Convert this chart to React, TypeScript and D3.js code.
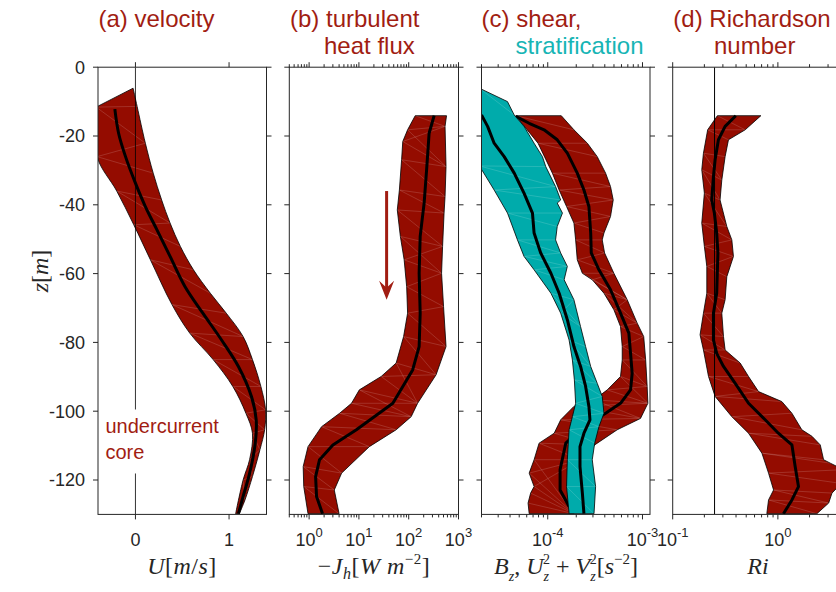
import React from "react";
import * as d3 from "d3";

type P = [number, number]; // [depth z (m), value]

// ---------- shared ----------
const zTicks = [0, -20, -40, -60, -80, -100, -120];

// ---------- (a) velocity U [m/s] ----------
const velocityLeft: P[] = [
  [-11.6, -0.42], [-26, -0.41], [-36, -0.2], [-45.8, -0.018], [-56, 0.16], [-69, 0.39],
  [-77.3, 0.58], [-85, 0.83], [-92.8, 1.04], [-100.6, 1.18], [-106.4, 1.25],
  [-114, 1.22], [-120, 1.15], [-129.8, 1.07],
];
const velocityRight: P[] = [
  [-6.1, -0.025], [-11.4, 0.018], [-22.1, 0.106], [-30.8, 0.19], [-38.6, 0.28],
  [-45.3, 0.37], [-52.1, 0.48], [-58.9, 0.62], [-65.7, 0.8], [-71.5, 0.97],
  [-78.3, 1.15], [-85, 1.25], [-92.8, 1.34], [-99.6, 1.39], [-105.4, 1.38],
  [-111.2, 1.33], [-119, 1.25], [-125.8, 1.17], [-129.8, 1.11],
];
const velocityMean: P[] = [
  [-12.2, -0.22], [-19.2, -0.18], [-26, -0.106], [-33.7, 0], [-40.5, 0.106],
  [-47.3, 0.23], [-55, 0.37], [-63.8, 0.53], [-71.5, 0.72], [-79.3, 0.92],
  [-87, 1.1], [-95.8, 1.24], [-102.5, 1.29], [-109.3, 1.28], [-118, 1.22],
  [-124.8, 1.15], [-129.8, 1.1],
];

// ---------- (b) turbulent heat flux -J_h [W m^-2] ----------
const fluxLeft: P[] = [
  [-14.1, 135], [-18.2, 95], [-21.6, 76], [-26.9, 72], [-35.7, 65], [-41.5, 59],
  [-49.2, 68], [-56, 81], [-63.8, 91], [-71.5, 95], [-78.3, 79], [-86, 56],
  [-89.9, 28], [-93.8, 10.2], [-97.7, 7.1], [-100.6, 4.1], [-104.5, 1.78],
  [-110.3, 0.95], [-116.1, 0.76], [-121.9, 0.78], [-129.8, 0.95],
];
const fluxRight: P[] = [
  [-14.1, 575], [-17.2, 537], [-28.9, 562], [-37.6, 537], [-42.4, 513], [-52.1, 479],
  [-59.9, 457], [-69.6, 501], [-81.2, 562], [-89.4, 355], [-97.7, 151], [-101.6, 112],
  [-105.4, 56], [-110.3, 16.2], [-118, 4.5], [-122.9, 3.2], [-129.8, 4.0],
];
const fluxMean: P[] = [
  [-14.1, 324], [-19.2, 257], [-29.8, 229], [-39.5, 204], [-49.2, 170], [-59.9, 162],
  [-71.5, 170], [-81.2, 162], [-88, 120], [-97.7, 48], [-105.4, 8.9], [-109.8, 3.0],
  [-114.1, 1.62], [-119, 1.35], [-124.8, 1.41], [-129.8, 1.86],
];
const arrowFlux = 36;
const arrowDepths = [-36, -67.6];

// ---------- (c) shear U_z^2+V_z^2 and stratification B_z [s^-2] ----------
const shearLeft: P[] = [
  [-14.1, 4.6e-5], [-22.1, 7.9e-5], [-30.8, 1.12e-4], [-35.7, 1.32e-4], [-40.5, 1.58e-4],
  [-45.3, 1.89e-4], [-50.2, 1.97e-4], [-56, 2.05e-4], [-59.9, 2.32e-4], [-61.8, 2.95e-4],
  [-65.7, 3.92e-4], [-70.5, 4.99e-4], [-75.4, 5.86e-4], [-81.2, 6.11e-4], [-85.1, 6.11e-4],
  [-89.9, 5.86e-4], [-93.8, 4.25e-4], [-96.7, 3.08e-4], [-98.6, 1.89e-4], [-102.5, 1.37e-4],
  [-106.4, 1.17e-4], [-109.3, 8.1e-5], [-114.1, 7.18e-5], [-118, 6.37e-5], [-121.9, 7.18e-5],
  [-123.8, 6.6e-5], [-126.7, 6.2e-5], [-129.8, 6.37e-5],
];
const shearRight: P[] = [
  [-14.1, 1.39e-4], [-18.2, 1.89e-4], [-22.1, 2.62e-4], [-26, 3.33e-4], [-30.8, 4.08e-4],
  [-34.7, 4.6e-4], [-38.6, 4.91e-4], [-43.4, 4.6e-4], [-48.2, 3.92e-4], [-50.2, 3.76e-4],
  [-54, 3.98e-4], [-59.9, 4.99e-4], [-67.6, 6.9e-4], [-74.4, 8.79e-4], [-78.3, 1.03e-3],
  [-85.1, 1.08e-3], [-92.8, 1.12e-3], [-97.7, 1.14e-3], [-102.1, 9.53e-4], [-105.4, 5.41e-4],
  [-109.8, 3.13e-4], [-114.1, 2.22e-4], [-129.8, 1.89e-4],
];
const shearMean: P[] = [
  [-14.3, 4.6e-5], [-16.3, 6.37e-5], [-18.2, 9.14e-5], [-21.1, 1.26e-4], [-25, 1.61e-4],
  [-30.8, 2.05e-4], [-35.7, 2.41e-4], [-40.5, 2.72e-4], [-48.2, 2.84e-4], [-54, 2.88e-4],
  [-58.9, 3.47e-4], [-64.7, 4.6e-4], [-71.5, 5.86e-4], [-77.3, 7.18e-4], [-83.2, 7.48e-4],
  [-89, 7.78e-4], [-93.8, 7.48e-4], [-97.7, 5.86e-4], [-100.6, 4.08e-4], [-104.5, 2.41e-4],
  [-109.3, 1.55e-4], [-117, 1.35e-4], [-122.9, 1.35e-4], [-127.7, 1.68e-4],
];
const stratLeft: P[] = [
  [-6.1, 1.9e-5], [-28.7, 1.9e-5], [-35.7, 2.72e-5], [-42.4, 3.76e-5], [-50.2, 4.79e-5],
  [-55, 5.62e-5], [-58.9, 7.18e-5], [-65.7, 1.08e-4], [-71.5, 1.37e-4], [-79.3, 1.68e-4],
  [-85.1, 1.82e-4], [-90.9, 1.91e-4], [-97.7, 1.97e-4], [-101.6, 1.82e-4], [-105.4, 1.68e-4],
  [-114.1, 1.61e-4], [-121.9, 1.58e-4], [-129.8, 1.68e-4],
];
const stratRight: P[] = [
  [-10, 3.76e-5], [-13.9, 4.43e-5], [-17.2, 5.62e-5], [-22.1, 7.18e-5], [-26, 8.79e-5],
  [-28.9, 9.53e-5], [-34.7, 1.21e-4], [-38.6, 1.37e-4], [-39.5, 1.26e-4], [-42.4, 1.43e-4],
  [-46.3, 1.26e-4], [-50.2, 1.21e-4], [-54, 1.37e-4], [-57.9, 1.61e-4], [-61.8, 1.49e-4],
  [-67.6, 1.89e-4], [-75.4, 2.22e-4], [-81.2, 2.51e-4], [-87, 2.84e-4], [-91.9, 3.33e-4],
  [-95.7, 3.76e-4], [-100.6, 3.92e-4], [-104.5, 3.47e-4], [-109.3, 3.13e-4], [-114.1, 2.95e-4],
  [-121.9, 3.2e-4], [-129.8, 3.08e-4],
];
const stratMean: P[] = [
  [-13.9, 2.0e-5], [-17.2, 2.32e-5], [-22.1, 2.72e-5], [-26, 3.47e-5], [-30.8, 4.43e-5],
  [-36.6, 5.62e-5], [-42.4, 6.9e-5], [-48.2, 7.18e-5], [-54, 8.43e-5], [-59.9, 1.08e-4],
  [-65.7, 1.32e-4], [-73.4, 1.61e-4], [-81.2, 1.89e-4], [-87, 2.22e-4], [-92.8, 2.51e-4],
  [-98.6, 2.72e-4], [-102.5, 2.79e-4], [-106.4, 2.41e-4], [-110.3, 2.19e-4], [-116.1, 2.19e-4],
  [-123.8, 2.32e-4], [-129.8, 2.41e-4],
];

// ---------- (d) Richardson number Ri ----------
const riLeft: P[] = [
  [-14.1, 0.266], [-18.2, 0.215], [-25, 0.196], [-29.8, 0.189], [-36.6, 0.2], [-45.3, 0.189],
  [-52.1, 0.2], [-57.9, 0.211], [-65.7, 0.211], [-71.5, 0.196], [-77.8, 0.182], [-82.2, 0.196],
  [-89.9, 0.219], [-95.7, 0.253], [-101.6, 0.365], [-106.4, 0.526], [-112.2, 0.705],
  [-118, 0.815], [-122.9, 0.91], [-125.8, 0.815], [-129.8, 0.785],
];
const riRight: P[] = [
  [-14.1, 0.689], [-18.2, 0.489], [-21.1, 0.339], [-26, 0.315], [-32.8, 0.293], [-38.6, 0.282],
  [-46.3, 0.327], [-50.2, 0.365], [-55, 0.378], [-60.9, 0.327], [-67.6, 0.315], [-71.5, 0.293],
  [-78.3, 0.304], [-82.2, 0.315], [-86, 0.438], [-89.9, 0.526], [-94.3, 0.655], [-97.2, 1.09],
  [-100.6, 1.36], [-105.4, 1.69], [-107.3, 2.11], [-109.8, 2.53], [-114.1, 2.72], [-115.1, 3.15],
  [-117, 4.2], [-121, 4.0], [-123.8, 3.27], [-126.7, 3.04], [-129.8, 2.35],
];
const riMean: P[] = [
  [-14.1, 0.398], [-17.2, 0.315], [-21.1, 0.272], [-26.9, 0.253], [-31.8, 0.244], [-38.6, 0.235],
  [-42.4, 0.249], [-48.2, 0.262], [-54, 0.269], [-65.7, 0.262], [-71.5, 0.244], [-79.3, 0.244],
  [-83.2, 0.262], [-87, 0.304], [-91.9, 0.393], [-97.7, 0.526], [-102.5, 0.757], [-106.4, 1.01],
  [-109.8, 1.36], [-116.1, 1.46], [-121.9, 1.57], [-125.8, 1.36], [-129.8, 1.13],
];
const riCritical = 0.25;

// ---------- styling ----------
const RED = "#940c00";
const CYAN = "#00abab";
const TITLE_RED = "#a11d12";
const TITLE_CYAN = "#17b5b5";
const AXIS = "#262626";
const SANS = "'Liberation Sans', Arial, Helvetica, sans-serif";
const SERIF = "'Liberation Serif', 'Times New Roman', serif";

const TOP = 67.2;
const BOTTOM = 514.4;
const W = 168.5;
const lefts = [98, 289.3, 481.5, 672.7];

const yScale = d3.scaleLinear().domain([0, -130]).range([TOP, BOTTOM]);
const xA = d3.scaleLinear().domain([-0.4, 1.4]).range([lefts[0], lefts[0] + W]);
const xB = d3.scaleLog().domain([0.4, 1000]).range([lefts[1], lefts[1] + 169.2]);
const xC = d3.scaleLog().domain([2e-5, 1.2e-3]).range([lefts[2], lefts[2] + W]);
const xD = d3.scaleLog().domain([0.1, 4]).range([lefts[3], lefts[3] + W]);

type Scale = (v: number) => number;

function texture(left: P[], right: P[]): [P, P][] {
  const out: [P, P][] = [];
  left.forEach((l) => {
    const j = d3.minIndex(right, (r) => Math.abs(r[0] - l[0]));
    out.push([l, right[j]]);
    if (j + 1 < right.length) out.push([l, right[j + 1]]);
  });
  return out;
}

function Band({ left, right, x, fill, smooth }: { left: P[]; right: P[]; x: Scale; fill: string; smooth?: boolean }) {
  const line = d3
    .line<P>()
    .x((d) => x(d[1]))
    .y((d) => yScale(d[0]))
    .curve(smooth ? d3.curveCatmullRom : d3.curveLinear);
  const dL = line(left) as string;
  const dR = line([...right].reverse()) as string;
  const d = dL + "L" + dR.slice(1) + "Z";
  const tex = texture(left, right);
  return (
    <g>
      <path d={d} fill={fill} stroke="none" />
      {tex.map(([a, b], i) => (
        <line
          key={i}
          x1={x(a[1])}
          y1={yScale(a[0])}
          x2={x(b[1])}
          y2={yScale(b[0])}
          stroke="#ffffff"
          strokeOpacity={0.25}
          strokeWidth={0.6}
        />
      ))}
      <path d={d} fill="none" stroke="#000" strokeWidth={0.8} strokeLinejoin="round" />
    </g>
  );
}

function Mean({ data, x, smooth }: { data: P[]; x: Scale; smooth?: boolean }) {
  const line = d3
    .line<P>()
    .x((d) => x(d[1]))
    .y((d) => yScale(d[0]))
    .curve(smooth ? d3.curveCatmullRom : d3.curveLinear);
  return <path d={line(data) as string} fill="none" stroke="#000" strokeWidth={3} strokeLinejoin="round" />;
}

function logTicks(domain: number[]) {
  const [a, b] = domain;
  const res: { v: number; major: boolean; e: number }[] = [];
  for (let e = Math.floor(Math.log10(a)); e <= Math.ceil(Math.log10(b)); e++) {
    for (let k = 1; k <= 9; k++) {
      const v = k * Math.pow(10, e);
      if (v >= a * 0.9999 && v <= b * 1.0001) res.push({ v, major: k === 1, e });
    }
  }
  return res;
}

function Frame({ i, xTicks, showYLabels }: { i: number; xTicks: { x: number; major: boolean }[]; showYLabels?: boolean }) {
  const x0 = lefts[i];
  const x1 = lefts[i] + (i === 1 ? 169.2 : W);
  return (
    <g stroke={AXIS} strokeWidth={1} fill="none">
      <rect x={x0} y={TOP} width={x1 - x0} height={BOTTOM - TOP} />
      {zTicks.map((z) => (
        <g key={z}>
          <line x1={x0 - 5} x2={x0} y1={yScale(z)} y2={yScale(z)} />
          <line x1={x1} x2={x1 + 5} y1={yScale(z)} y2={yScale(z)} />
        </g>
      ))}
      {xTicks.map((t, k) => (
        <g key={k}>
          <line x1={t.x} x2={t.x} y1={TOP} y2={TOP - (t.major ? 5 : 3)} />
          <line x1={t.x} x2={t.x} y1={BOTTOM} y2={BOTTOM + (t.major ? 5 : 3)} />
        </g>
      ))}
      {showYLabels &&
        zTicks.map((z) => (
          <text
            key={"l" + z}
            x={x0 - 13}
            y={yScale(z)}
            dy="0.36em"
            textAnchor="end"
            fontFamily={SANS}
            fontSize={18}
            fill={AXIS}
            stroke="none"
          >
            {z}
          </text>
        ))}
    </g>
  );
}

function PowLabel({ x, e }: { x: number; e: number }) {
  return (
    <text x={x} y={545.5} textAnchor="middle" fontFamily={SANS} fontSize={18} fill={AXIS}>
      <tspan>10</tspan>
      <tspan dy={-9} fontSize={13}>
        {String(e)}
      </tspan>
    </text>
  );
}

export default function App() {
  const ticksA = [0, 1].map((v) => ({ x: xA(v), major: true }));
  const tB = logTicks(xB.domain());
  const tC = logTicks(xC.domain());
  const tD = logTicks(xD.domain());
  const toX = (s: Scale, t: { v: number; major: boolean }[]) => t.map((d) => ({ x: s(d.v), major: d.major }));

  const clip = (i: number) => `url(#clip${i})`;

  return (
    <svg
      width={836}
      height={592}
      viewBox="0 0 836 592"
      style={{ position: "absolute", left: 0, top: 0, background: "#fff" }}
    >
      <defs>
        {lefts.map((l, i) => (
          <clipPath id={`clip${i}`} key={i}>
            <rect x={l} y={TOP} width={i === 1 ? 169.2 : W} height={BOTTOM - TOP} />
          </clipPath>
        ))}
      </defs>
      <rect x={0} y={0} width={836} height={592} fill="#fff" />

      {/* titles */}
      <g fontFamily={SANS} fontSize={24} fill={TITLE_RED}>
        <text x={98.5} y={27}>(a) velocity</text>
        <text x={290} y={27}>(b) turbulent</text>
        <text x={324} y={54}>heat flux</text>
        <text x={481.5} y={27}>(c) shear,</text>
        <text x={515.5} y={54} fill={TITLE_CYAN}>stratification</text>
        <text x={673.3} y={27}>(d) Richardson</text>
        <text x={714} y={54}>number</text>
      </g>

      {/* (a) */}
      <g clipPath={clip(0)}>
        <Band left={velocityLeft} right={velocityRight} x={xA} fill={RED} smooth />
        <Mean data={velocityMean} x={xA} smooth />
        <line x1={xA(0)} x2={xA(0)} y1={TOP} y2={BOTTOM} stroke="#000" strokeWidth={0.8} />
        <rect x={xA(-0.37)} y={yScale(-99.5)} width={124} height={64} fill="#fff" />
        <text x={xA(-0.32)} y={yScale(-106.3)} fontFamily={SANS} fontSize={20} fill={TITLE_RED}>
          undercurrent
        </text>
        <text x={xA(-0.32)} y={yScale(-113.9)} fontFamily={SANS} fontSize={20} fill={TITLE_RED}>
          core
        </text>
      </g>
      <Frame i={0} xTicks={ticksA} showYLabels />
      {[0, 1].map((v) => (
        <text key={v} x={xA(v)} y={545.5} textAnchor="middle" fontFamily={SANS} fontSize={18} fill={AXIS}>
          {v}
        </text>
      ))}

      {/* (b) */}
      <g clipPath={clip(1)}>
        <Band left={fluxLeft} right={fluxRight} x={xB} fill={RED} />
        <Mean data={fluxMean} x={xB} />
      </g>
      <g fill={TITLE_RED}>
        <line
          x1={xB(arrowFlux)}
          x2={xB(arrowFlux)}
          y1={yScale(arrowDepths[0])}
          y2={yScale(arrowDepths[1]) - 8}
          stroke={TITLE_RED}
          strokeWidth={3}
        />
        <path
          d={`M${xB(arrowFlux)},${yScale(arrowDepths[1])} L${xB(arrowFlux) - 7.5},${yScale(arrowDepths[1]) - 19} L${xB(arrowFlux)},${yScale(arrowDepths[1]) - 12} L${xB(arrowFlux) + 7.5},${yScale(arrowDepths[1]) - 19} Z`}
        />
      </g>
      <Frame i={1} xTicks={toX(xB, tB)} />
      {tB.filter((t) => t.major).map((t) => (
        <PowLabel key={t.e} x={xB(t.v)} e={t.e} />
      ))}

      {/* (c) */}
      <g clipPath={clip(2)}>
        <Band left={shearLeft} right={shearRight} x={xC} fill={RED} />
        <Mean data={shearMean} x={xC} />
        <Band left={stratLeft} right={stratRight} x={xC} fill={CYAN} />
        <Mean data={stratMean} x={xC} />
      </g>
      <Frame i={2} xTicks={toX(xC, tC)} />
      {tC.filter((t) => t.major).map((t) => (
        <PowLabel key={t.e} x={xC(t.v)} e={t.e} />
      ))}

      {/* (d) */}
      <g clipPath={clip(3)}>
        <Band left={riLeft} right={riRight} x={xD} fill={RED} />
        <Mean data={riMean} x={xD} />
        <line x1={xD(riCritical)} x2={xD(riCritical)} y1={TOP} y2={BOTTOM} stroke="#000" strokeWidth={1} />
      </g>
      <Frame i={3} xTicks={toX(xD, tD)} />
      {tD.filter((t) => t.major).map((t) => (
        <PowLabel key={t.e} x={xD(t.v)} e={t.e} />
      ))}

      {/* axis labels */}
      <g fontFamily={SERIF} fontSize={24} fill={AXIS}>
        <text transform="translate(48,271) rotate(-90)" textAnchor="middle">
          <tspan fontStyle="italic">z</tspan>
          <tspan>[</tspan>
          <tspan fontStyle="italic">m</tspan>
          <tspan>]</tspan>
        </text>
        <text x={182} y={574} textAnchor="middle" letterSpacing={0.5}>
          <tspan fontStyle="italic">U</tspan>
          <tspan>[</tspan>
          <tspan fontStyle="italic">m</tspan>
          <tspan>/</tspan>
          <tspan fontStyle="italic">s</tspan>
          <tspan>]</tspan>
        </text>
        <text x={374} y={574} textAnchor="middle" letterSpacing={0.5}>
          <tspan>−</tspan>
          <tspan fontStyle="italic">J</tspan>
          <tspan fontStyle="italic" fontSize={16} dy={5}>h</tspan>
          <tspan dy={-5}>[</tspan>
          <tspan fontStyle="italic">W m</tspan>
          <tspan fontSize={15} dy={-10}>−2</tspan>
          <tspan dy={10}>]</tspan>
        </text>
        <text x={566} y={574} textAnchor="middle">
          <tspan fontStyle="italic">B</tspan>
          <tspan fontStyle="italic" fontSize={14} dy={7}>z</tspan>
          <tspan dy={-7}>, </tspan>
          <tspan fontStyle="italic">U</tspan>
          <tspan fontStyle="italic" fontSize={14} dy={7}>z</tspan>
          <tspan fontSize={14} dx={-6} dy={-17}>2</tspan>
          <tspan dy={10}> + </tspan>
          <tspan fontStyle="italic">V</tspan>
          <tspan fontStyle="italic" fontSize={14} dy={7}>z</tspan>
          <tspan fontSize={14} dx={-6} dy={-17}>2</tspan>
          <tspan dy={10}>[</tspan>
          <tspan fontStyle="italic">s</tspan>
          <tspan fontSize={15} dy={-10}>−2</tspan>
          <tspan dy={10}>]</tspan>
        </text>
        <text x={758} y={574} textAnchor="middle" fontStyle="italic">
          Ri
        </text>
      </g>
    </svg>
  );
}
